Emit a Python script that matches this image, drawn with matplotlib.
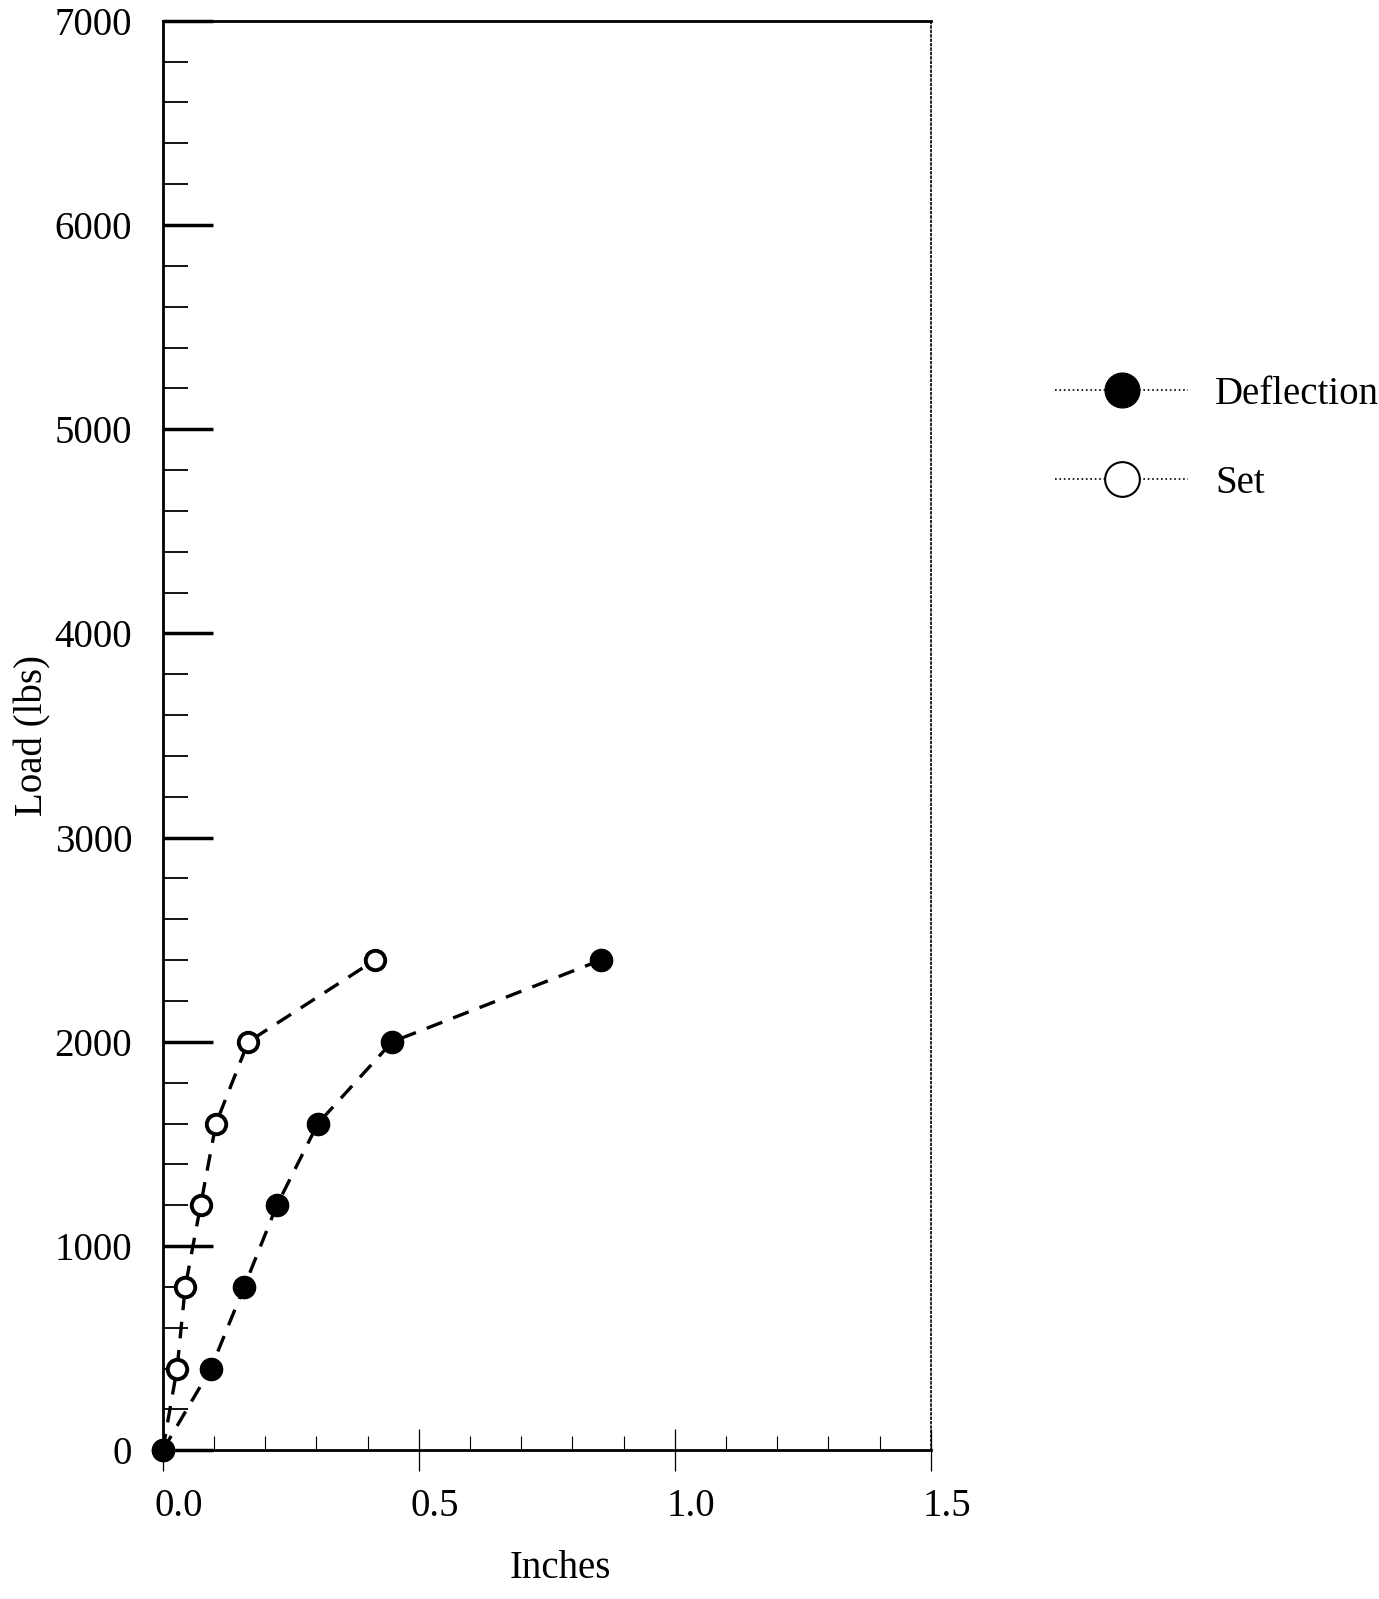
import numpy as np
import matplotlib as mpl
import matplotlib.pyplot as plt
import matplotlib.transforms as mtrans
from matplotlib.lines import Line2D

mpl.rcParams.update({'font.family': 'serif',
                     'font.serif': ['Liberation Serif', 'DejaVu Serif'],
                     'font.size': 28})

# Load steps (lbs) and readings (inches)
load = [0, 400, 800, 1200, 1600, 2000, 2400]
deflection = [0.0, 0.094, 0.159, 0.223, 0.303, 0.448, 0.855]
set_ = [0.0, 0.028, 0.044, 0.074, 0.104, 0.167, 0.414]

fig = plt.figure(figsize=(13.79, 15.99), dpi=100)
ax = fig.add_axes([0.118, 0.093, 0.557, 0.894])

ax.plot(set_, load, 'k--', lw=2.4, dashes=(5, 3.5), marker='o', ms=14,
        mfc='w', mec='k', mew=2.8, zorder=3, clip_on=False)
ax.plot(deflection, load, 'k--', lw=2.4, dashes=(5, 3.5), marker='o', ms=16,
        mfc='k', mec='k', zorder=4, clip_on=False)

ax.set_xlim(0.0, 1.5)
ax.set_ylim(0, 7000)
ax.set_xticks([0.0, 0.5, 1.0, 1.5])
ax.set_xticklabels(['0.0', '0.5', '1.0', '1.5'])
ax.set_xticks(np.arange(0, 1.51, 0.1), minor=True)
ax.set_yticks(np.arange(0, 7001, 1000))
ax.set_yticks(np.arange(0, 7001, 200), minor=True)
ax.tick_params(axis='y', which='major', direction='in', length=36, width=2.5, pad=22)
ax.tick_params(axis='y', which='minor', direction='in', length=18, width=1.3)
ax.tick_params(axis='x', which='major', direction='inout', length=30, width=0.9, pad=12)
ax.tick_params(axis='x', which='minor', direction='in', length=10, width=0.8)

# tick labels in the original sit a little right of their ticks
for lab in ax.get_xticklabels():
    lab.set_transform(lab.get_transform() +
                      mtrans.ScaledTranslation(0.16, 0, fig.dpi_scale_trans))

for s in ['left', 'bottom', 'top']:
    ax.spines[s].set_linewidth(2)
ax.spines['right'].set_linestyle(':')
ax.spines['right'].set_linewidth(1.2)

ax.set_xlabel('Inches')
ax.set_ylabel('Load (lbs)')
ax.xaxis.set_label_coords(0.518, -0.07)
ax.yaxis.set_label_coords(-0.145, 0.5)

handles = [Line2D([], [], color='k', ls=':', lw=1.2, marker='o', ms=25,
                  mfc='k', mec='k'),
           Line2D([], [], color='k', ls=':', lw=1.2, marker='o', ms=25,
                  mfc='w', mec='k', mew=1.5)]
fig.legend(handles, ['Deflection', 'Set'], loc='upper left',
           bbox_to_anchor=(0.74, 0.787), frameon=False, handlelength=3.4,
           handletextpad=0.7, labelspacing=1.35)

plt.savefig('out.png', dpi=100)
